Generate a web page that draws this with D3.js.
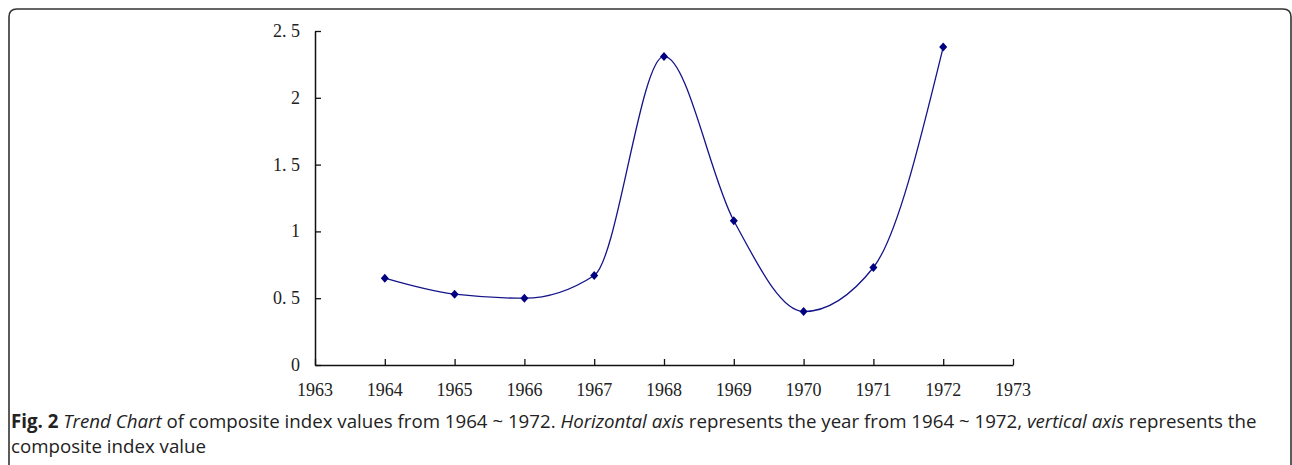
<!DOCTYPE html>
<meta charset="utf-8" />
<style>
  body { margin: 0; background: #fff; }
  .caption { font-family: "Open Sans", "Noto Sans", sans-serif; font-size: 18.7px; fill: #222; }
  .tick-label { font-family: "Liberation Serif", "DejaVu Serif", serif; font-size: 18px; fill: #222; }
</style>
<body>
  <svg id="chart" width="1292" height="465"></svg>
  <script src="https://cdn.jsdelivr.net/npm/d3@7"></script>
  <script>
    // values
    let years = [1964, 1965, 1966, 1967, 1968, 1969, 1970, 1971, 1972];
    let indexValues = [0.65, 0.53, 0.5, 0.67, 2.31, 1.08, 0.4, 0.73, 2.38];
    let xTicks = [1963, 1964, 1965, 1966, 1967, 1968, 1969, 1970, 1971, 1972, 1973];
    let yTicks = [0, 0.5, 1, 1.5, 2, 2.5];
    let yTickLabels = ["0", "0. 5", "1", "1. 5", "2", "2. 5"];

    let svg = d3.select("#chart");

    // frame round the figure, open at the bottom
    svg.append("path")
      .attr("d", "M9,470 L9,17 Q9,9 17,9 L1283,9 Q1291,9 1291,17 L1291,470")
      .attr("fill", "none")
      .attr("stroke", "#333")
      .attr("stroke-width", 1.6);

    let x = d3.scaleLinear().domain([1963, 1973]).range([315, 1013]);
    let y = d3.scaleLinear().domain([0, 2.5]).range([365, 31]);

    let axisColor = "#111";

    // y axis, ticks point inwards
    let yAxis = svg.append("g")
      .attr("transform", "translate(" + x(1963) + ",0)")
      .call(d3.axisRight(y).tickValues(yTicks).tickSize(6).tickSizeOuter(0).tickFormat(""));
    yAxis.select(".domain").attr("stroke", axisColor).attr("stroke-width", 1.5);
    yAxis.selectAll(".tick line").attr("stroke", axisColor).attr("stroke-width", 1.3);

    svg.selectAll(".ylab")
      .data(yTicks)
      .enter()
      .append("text")
      .attr("class", "tick-label")
      .attr("x", 300)
      .attr("y", (d) => y(d) + 6)
      .attr("text-anchor", "end")
      .text((d, i) => yTickLabels[i]);

    // x axis, ticks point up
    let xAxis = svg.append("g")
      .attr("transform", "translate(0," + y(0) + ")")
      .call(d3.axisTop(x).tickValues(xTicks).tickSize(6).tickSizeOuter(0).tickFormat(""));
    xAxis.select(".domain").attr("stroke", axisColor).attr("stroke-width", 1.5);
    xAxis.selectAll(".tick line").attr("stroke", axisColor).attr("stroke-width", 1.3);

    svg.selectAll(".xlab")
      .data(xTicks)
      .enter()
      .append("text")
      .attr("class", "tick-label")
      .attr("x", (d) => x(d))
      .attr("y", 396)
      .attr("text-anchor", "middle")
      .text((d) => d);

    let points = years.map((yr, i) => [yr, indexValues[i]]);

    let line = d3.line()
      .x((d) => x(d[0]))
      .y((d) => y(d[1]))
      .curve(d3.curveMonotoneX);

    svg.append("path")
      .datum(points)
      .attr("d", line)
      .attr("fill", "none")
      .attr("stroke", "#14148a")
      .attr("stroke-width", 1.3);

    svg.selectAll(".marker")
      .data(points)
      .enter()
      .append("path")
      .attr("d", "M0,-4.5 L4,0 L0,4.5 L-4,0 Z")
      .attr("transform", (d) => "translate(" + x(d[0]) + "," + y(d[1]) + ")")
      .attr("fill", "#000080");

    // caption
    let cap1 = svg.append("text").attr("class", "caption").attr("x", 11).attr("y", 428);
    cap1.append("tspan").attr("font-weight", "bold").text("Fig. 2");
    cap1.append("tspan").attr("font-style", "italic").text(" Trend Chart");
    cap1.append("tspan").text(" of composite index values from 1964 ~ 1972. ");
    cap1.append("tspan").attr("font-style", "italic").text("Horizontal axis");
    cap1.append("tspan").text(" represents the year from 1964 ~ 1972, ");
    cap1.append("tspan").attr("font-style", "italic").text("vertical axis");
    cap1.append("tspan").text(" represents the");

    svg.append("text").attr("class", "caption").attr("x", 11).attr("y", 453).text("composite index value");
  </script>
</body>
